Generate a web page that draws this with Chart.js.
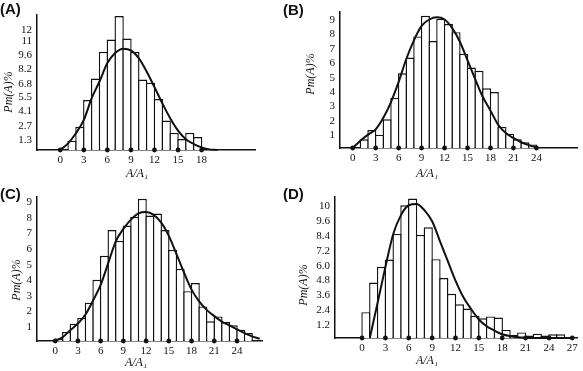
<!DOCTYPE html>
<html>
<head>
<meta charset="utf-8">
<script src="https://cdn.jsdelivr.net/npm/chart.js@4.4.1/dist/chart.umd.min.js"></script>
<style>
  html, body { margin: 0; padding: 0; background: #fff; }
  #fig { position: relative; width: 583px; height: 371px; overflow: hidden; }
  canvas { position: absolute; }
  .tag { position: absolute; font: bold 15px "Liberation Sans", Arial, sans-serif; line-height: 15px; color: #111; }
  .ytitle, .xtitle { position: absolute; font: italic 12px "Liberation Serif", serif; color: #111; white-space: nowrap; }
  .ytitle { transform: translate(-50%, -50%) rotate(-90deg); }
  .xtitle { transform: translate(-50%, -50%); }
</style>
</head>
<body>
<div id="fig">
  <canvas id="cA" width="290" height="185" style="left:0;top:0"></canvas>
  <canvas id="cB" width="293" height="185" style="left:290px;top:0"></canvas>
  <canvas id="cC" width="290" height="186" style="left:0;top:185px"></canvas>
  <canvas id="cD" width="293" height="186" style="left:290px;top:185px"></canvas>

  <div class="tag" style="left:0;top:1px">(A)</div>
  <div class="tag" style="left:283px;top:2px">(B)</div>
  <div class="tag" style="left:0;top:186px">(C)</div>
  <div class="tag" style="left:283px;top:186px">(D)</div>

  <div class="ytitle" style="left:8px;top:92px">Pm(A)%</div>
  <div class="ytitle" style="left:310px;top:74px">Pm(A)%</div>
  <div class="ytitle" style="left:16px;top:280px">Pm(A)%</div>
  <div class="ytitle" style="left:303px;top:285px">Pm(A)%</div>

  <div class="xtitle" style="left:137px;top:173px">A/A₁</div>
  <div class="xtitle" style="left:427px;top:173px">A/A₁</div>
  <div class="xtitle" style="left:136px;top:362px">A/A₁</div>
  <div class="xtitle" style="left:427px;top:360px">A/A₁</div>
</div>

<script>
// ---- panel A ----
const binsA = [1.5, 2.5, 3.5, 4.5, 5.5, 6.5, 7.5, 8.5, 9.5, 10.5, 11.5, 12.5, 13.5, 14.5, 15.5, 16.5, 17.5];
const barsA = [1.24, 2.6, 5.2, 7.3, 9.9, 11.1, 13.4, 11.2, 9.9, 7.2, 6.9, 5.3, 3.2, 2.0, 1.4, 2.0, 1.6];
const curveXA = [0, 1, 2, 3, 4, 5, 6, 7, 8, 9, 10, 11, 12, 13, 14, 15, 16, 17, 18, 19, 20];
const curveA = [0.33, 0.98, 1.96, 3.26, 5.38, 7.01, 8.81, 9.79, 10.21, 10.05, 9.3, 7.99, 6.46, 4.89, 3.43, 2.22, 1.37, 0.91, 0.59, 0.39, 0.33];
const xTicksA = [0, 3, 6, 9, 12, 15, 18];
const yTicksA = [1.3, 2.7, 4.1, 5.5, 6.8, 8.2, 9.6, 11, 12];
const yLabelsA = ['1.3', '2.7', '4.1', '5.5', '6.8', '8.2', '9.6', '11', '12'];

// ---- panel B ----
const binsB = [1.5, 2.5, 3.5, 4.5, 5.5, 6.5, 7.5, 8.5, 9.5, 10.5, 11.5, 12.5, 13.5, 14.5, 15.5, 16.5, 17.5, 18.5, 19.5, 20.5, 21.5, 22.5, 23.5];
const barsB = [0.71, 1.35, 1.03, 2.1, 3.6, 5.3, 6.4, 7.87, 9.31, 7.55, 9.1, 8.73, 8.17, 6.67, 5.7, 5.48, 4.26, 4.0, 1.57, 1.1, 0.71, 0.5, 0.35];
const curveXB = [0, 1, 2, 3, 4, 5, 6, 7, 8, 9, 10, 11, 12, 13, 14, 15, 16, 17, 18, 19, 20, 21, 22, 23, 24];
const curveB = [0.1, 0.6, 1.03, 1.4, 2.2, 3.3, 4.7, 6.3, 7.6, 8.6, 9.05, 9.2, 9.05, 8.45, 7.5, 6.2, 4.9, 3.65, 2.7, 1.72, 1.14, 0.8, 0.5, 0.3, 0.15];
const xTicksB = [0, 3, 6, 9, 12, 15, 18, 21, 24];
const yTicksB = [1, 2, 3, 4, 5, 6, 7, 8, 9];
const yLabelsB = ['1', '2', '3', '4', '5', '6', '7', '8', '9'];

// ---- panel C ----
const binsC = [0.5, 1.5, 2.5, 3.5, 4.5, 5.5, 6.5, 7.5, 8.5, 9.5, 10.5, 11.5, 12.5, 13.5, 14.5, 15.5, 16.5, 17.5, 18.5, 19.5, 20.5, 21.5, 22.5, 23.5, 24.5, 25.5];
const barsC = [0.26, 0.68, 1.21, 1.58, 2.56, 4.03, 5.57, 7.23, 6.53, 7.52, 8.08, 9.23, 8.16, 8.29, 7.23, 5.95, 4.73, 3.3, 3.82, 2.32, 1.37, 1.68, 1.32, 1.11, 0.83, 0.61];
const curveXC = [0, 1, 2, 3, 4, 5, 6, 7, 8, 9, 10, 11, 12, 13, 14, 15, 16, 17, 18, 19, 20, 21, 22, 23, 24, 25, 26, 27];
const curveC = [0.1, 0.35, 0.8, 1.22, 1.8, 2.7, 3.7, 5.1, 6.5, 7.3, 7.9, 8.3, 8.38, 8.2, 7.7, 6.85, 5.7, 4.5, 3.4, 2.65, 2.1, 1.7, 1.35, 1.1, 0.85, 0.6, 0.4, 0.25];
const xTicksC = [0, 3, 6, 9, 12, 15, 18, 21, 24];
const yTicksC = [1, 2, 3, 4, 5, 6, 7, 8, 9];
const yLabelsC = ['1', '2', '3', '4', '5', '6', '7', '8', '9'];

// ---- panel D ----
const binsD = [0.5, 1.5, 2.5, 3.5, 4.5, 5.5, 6.5, 7.5, 8.5, 9.5, 10.5, 11.5, 12.5, 13.5, 14.5, 15.5, 16.5, 17.5, 18.5, 19.5, 20.5, 21.5, 22.5, 23.5, 24.5, 25.5];
const barsD = [2.24, 4.64, 5.92, 6.5, 8.58, 10.9, 11.44, 8.5, 9.12, 6.53, 5.01, 3.73, 2.88, 2.53, 1.95, 1.75, 1.9, 1.8, 0.8, 0.4, 0.6, 0.35, 0.5, 0.35, 0.45, 0.45];
const curveXD = [1, 2, 3, 4, 5, 6, 7, 8, 9, 10, 11, 12, 13, 14, 15, 16, 17, 18, 19, 20, 21, 22, 23, 24, 25, 26, 27];
const curveD = [0.15, 3.0, 5.9, 8.55, 10.1, 10.9, 11.0, 10.5, 9.6, 8.0, 6.4, 4.8, 3.47, 2.5, 1.65, 1.1, 0.75, 0.45, 0.3, 0.22, 0.18, 0.16, 0.15, 0.15, 0.15, 0.15, 0.15];
const xTicksD = [0, 3, 6, 9, 12, 15, 18, 21, 24, 27];
const yTicksD = [1.2, 2.4, 3.6, 4.8, 6.0, 7.2, 8.4, 9.6, 10.8];
const yLabelsD = ['1.2', '2.4', '3.6', '4.8', '6.0', '7.2', '8.4', '9.6', '10'];

const INK = '#111';
const tickFont = { family: 'Liberation Serif', size: 11 };

// area = [left, top, right, bottom] of the plot inside the canvas
function makePanel(id, p) {
  const canvas = document.getElementById(id);
  const W = canvas.width, H = canvas.height;
  const unitPx = (p.area[2] - p.area[0]) / (p.xMax - p.xMin);
  const edge = 1.4;

  new Chart(canvas, {
    type: 'bar',
    data: {
      datasets: [
        {
          type: 'line',
          data: p.xTicks.map(v => ({ x: v, y: p.yMin })),
          showLine: false,
          pointRadius: 2.4,
          pointBackgroundColor: INK,
          pointBorderWidth: 0,
          clip: false,
          order: 0
        },
        {
          type: 'line',
          data: p.curveX.map((x, i) => ({ x: x, y: p.curve[i] })),
          borderColor: INK,
          borderWidth: 2,
          pointRadius: 0,
          cubicInterpolationMode: 'monotone',
          fill: false,
          clip: false,
          order: 1
        },
        {
          type: 'bar',
          data: p.bins.map((x, i) => ({ x: x, y: p.bars[i] })),
          backgroundColor: '#fff',
          borderColor: INK,
          borderWidth: edge,
          // neighbouring bars overlap by one border so they share a single divider
          barPercentage: 1 + edge / unitPx,
          categoryPercentage: 1,
          order: 2
        }
      ]
    },
    options: {
      responsive: false,
      animation: false,
      devicePixelRatio: 1,
      layout: { padding: { left: 0, top: p.area[1], right: W - p.area[2], bottom: 0 } },
      plugins: { legend: { display: false }, tooltip: { enabled: false } },
      scales: {
        x: {
          type: 'linear',
          min: p.xMin,
          max: p.xMax,
          offset: false,
          grid: { display: false, drawTicks: false },
          border: { display: true, color: INK, width: 1.5 },
          ticks: { color: INK, font: tickFont, padding: 4, autoSkip: false, maxRotation: 0 },
          afterBuildTicks: s => { s.ticks = p.xTicks.map(v => ({ value: v })); },
          afterFit: s => { s.height = H - p.area[3]; }
        },
        y: {
          min: p.yMin,
          max: p.yMax,
          grid: { display: false, drawTicks: false },
          border: { display: true, color: INK, width: 1.5 },
          ticks: {
            color: INK, font: tickFont, padding: 5, autoSkip: false,
            callback: (v, i) => p.yLabels[i]
          },
          afterBuildTicks: s => { s.ticks = p.yTicks.map(v => ({ value: v })); },
          afterFit: s => { s.width = p.area[0]; }
        }
      }
    }
  });
}

makePanel('cA', {
  bins: binsA, bars: barsA, curveX: curveXA, curve: curveA,
  xTicks: xTicksA, yTicks: yTicksA, yLabels: yLabelsA,
  xMin: -2.96, xMax: 24.8, yMin: 0.33, yMax: 13.5,
  area: [37, 15, 255, 150]
});
makePanel('cB', {
  bins: binsB, bars: barsB, curveX: curveXB, curve: curveB,
  xTicks: xTicksB, yTicks: yTicksB, yLabels: yLabelsB,
  xMin: -1.66, xMax: 29.3, yMin: 0.1, yMax: 9.6,
  area: [50, 1, 287, 148]
});
makePanel('cC', {
  bins: binsC, bars: barsC, curveX: curveXC, curve: curveC,
  xTicks: xTicksC, yTicks: yTicksC, yLabels: yLabelsC,
  xMin: -2.4, xMax: 27.3, yMin: 0.1, yMax: 9.35,
  area: [37, 12, 262, 156]
});
makePanel('cD', {
  bins: binsD, bars: barsD, curveX: curveXD, curve: curveD,
  xTicks: xTicksD, yTicks: yTicksD, yLabels: yLabelsD,
  xMin: -3.47, xMax: 27.6, yMin: 0.15, yMax: 11.6,
  area: [45, 10, 287, 153]
});
</script>
</body>
</html>
